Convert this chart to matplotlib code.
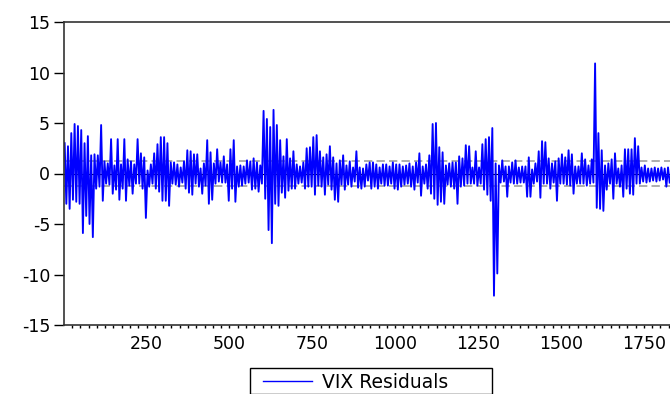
import numpy as np
import matplotlib
matplotlib.use("Agg")
import matplotlib.pyplot as plt
from matplotlib.ticker import MultipleLocator
from matplotlib.patches import Rectangle

resid_hi = [3.0, 2.7, 4.0, 4.9, 4.7, 4.3, 3.0, 3.7, 1.8, 1.9,
            1.8, 4.8, 1.2, 1.0, 3.4, 0.8, 3.4, 0.9, 3.4, 1.4,
            1.2, 0.9, 3.4, 2.0, 1.6, 0.3, 0.9, 2.0, 2.9, 3.6,
            3.6, 3.0, 1.1, 1.1, 0.9, 0.6, 1.2, 2.3, 2.2, 1.9,
            1.9, 0.5, 1.0, 3.3, 2.1, 1.0, 2.4, 1.1, 1.7, 0.9,
            2.4, 3.3, 0.7, 0.8, 0.7, 1.3, 1.2, 1.5, 1.1, 0.8,
            6.2, 5.4, 4.6, 6.3, 4.8, 3.3, 1.7, 3.4, 1.5, 2.2,
            0.9, 0.7, 1.1, 2.5, 2.6, 3.6, 3.8, 2.2, 1.6, 1.9,
            2.7, 1.6, 1.0, 1.3, 1.8, 0.8, 1.2, 0.6, 2.2, 0.6,
            0.5, 0.9, 1.1, 1.1, 0.9, 0.6, 0.9, 0.9, 0.7, 1.1,
            0.9, 0.9, 0.7, 0.8, 1.0, 0.7, 1.1, 2.0, 0.7, 0.9,
            1.8, 4.9, 5.0, 2.6, 2.1, 0.8, 1.0, 1.1, 1.1, 1.7,
            1.5, 2.8, 2.7, 0.6, 2.2, 0.6, 2.9, 3.4, 3.6, 4.5,
            1.0, 0.8, 1.3, 0.7, 0.7, 1.1, 1.3, 0.6, 0.7, 0.7,
            1.6, 0.4, 1.0, 2.2, 3.2, 3.1, 1.5, 1.0, 1.2, 1.5,
            1.9, 1.6, 2.3, 1.9, 0.7, 0.7, 2.0, 1.4, 0.8, 1.4,
            10.9, 4.0, 2.3, 0.8, 1.0, 1.4, 2.0, 0.5, 0.8, 2.4,
            2.4, 2.4, 3.5, 2.7, 0.6, 0.8, 0.5, 0.5, 0.6, 0.5,
            0.6, 0.5, 0.6]
resid_lo = [-3.0, -3.5, -2.6, -2.8, -3.0, -5.9, -4.2, -5.0, -6.3, -1.5,
            -1.3, -2.7, -1.0, -1.1, -2.0, -1.6, -2.6, -1.5, -2.7, -1.2,
            -2.0, -1.0, -1.0, -1.5, -4.4, -1.3, -1.0, -1.5, -1.8, -2.7,
            -2.7, -3.2, -1.0, -1.1, -1.3, -0.9, -1.5, -1.9, -2.1, -1.0,
            -1.3, -2.0, -1.2, -3.0, -2.6, -1.0, -0.8, -0.9, -0.9, -2.7,
            -1.5, -2.8, -1.3, -1.2, -1.0, -0.9, -1.6, -1.5, -1.8, -1.0,
            -2.5, -5.6, -6.9, -3.0, -3.2, -1.9, -2.4, -1.7, -1.5, -1.5,
            -1.0, -0.9, -1.5, -1.3, -1.3, -2.1, -1.2, -1.3, -2.1, -1.1,
            -1.6, -2.6, -2.8, -1.1, -1.6, -1.1, -1.3, -0.8, -1.4, -1.5,
            -1.3, -0.7, -1.5, -1.3, -1.5, -1.0, -1.2, -1.2, -1.0, -1.5,
            -1.6, -1.3, -1.1, -1.0, -1.3, -1.6, -0.9, -2.2, -1.0, -1.5,
            -2.0, -2.5, -3.1, -2.8, -3.0, -1.1, -1.3, -1.5, -3.0, -1.3,
            -1.2, -1.0, -1.0, -1.0, -1.2, -1.0, -1.6, -2.1, -2.7, -12.1,
            -9.9, -0.9, -0.8, -2.3, -0.9, -1.0, -1.0, -0.9, -0.9, -2.3,
            -2.3, -1.0, -0.8, -2.4, -1.0, -1.0, -1.5, -0.9, -2.7, -1.0,
            -1.0, -1.1, -1.2, -2.0, -1.0, -1.0, -1.0, -1.2, -1.0, -0.9,
            -3.4, -3.5, -3.7, -1.6, -1.0, -2.5, -1.0, -1.3, -2.3, -1.5,
            -2.0, -2.1, -1.0, -1.0, -0.8, -0.9, -0.8, -0.7, -0.8, -0.7,
            -0.6, -1.3, -0.9]
se_band = 1.25  # +/- 1 S.E. dashed lines

series = np.column_stack([resid_hi, resid_lo]).ravel()
obs = np.arange(len(series)) * 5 + 3

plt.rcParams['font.family'] = ['DejaVu Sans']
plt.rcParams['axes.unicode_minus'] = False

W, H = 670, 394
fig = plt.figure(figsize=(6.7, 3.94), dpi=100)
ax = fig.add_axes([64/W, 1 - 325/H, 608/W, 303/H])

ax.axhline(se_band, color='#a0a0a0', lw=1.2, dashes=(5, 2.5), zorder=1)
ax.axhline(-se_band, color='#a0a0a0', lw=1.2, dashes=(5, 2.5), zorder=1)
ax.axhline(0, color='black', lw=0.8, zorder=1)
ax.plot(obs, series, color='#0000ff', lw=1.35, zorder=2, label='VIX Residuals')

ax.set_xlim(1, 1835)
ax.set_ylim(-15, 15)
ax.yaxis.set_major_locator(MultipleLocator(5))
ax.xaxis.set_minor_locator(MultipleLocator(25))
ax.set_xticks([250, 500, 750, 1000, 1250, 1500, 1750])

ax.tick_params(axis='y', direction='out', length=7, width=1, pad=3, labelsize=12.5)
ax.tick_params(axis='x', which='both', direction='out', length=2.5, width=1, pad=5, labelsize=12.5)
for s in ['left', 'top', 'bottom']:
    ax.spines[s].set_color('#333333')
    ax.spines[s].set_linewidth(1.2)
ax.spines['right'].set_visible(False)

# legend box drawn by hand so it can be as wide as the original
fig.patches.append(Rectangle((250/W, 0), 242/W, 1 - 368/H, transform=fig.transFigure,
                             facecolor='white', edgecolor='black', lw=1.0, zorder=3))
leg = fig.legend(loc='center left', bbox_to_anchor=(263/W, 1 - 382/H),
                 frameon=False, fontsize=13.5, handlelength=2.6,
                 handletextpad=0.55, borderaxespad=0, borderpad=0)
leg.set_zorder(4)
for line in leg.get_lines():
    line.set_linewidth(1.0)

fig.savefig('out.png', dpi=100)
